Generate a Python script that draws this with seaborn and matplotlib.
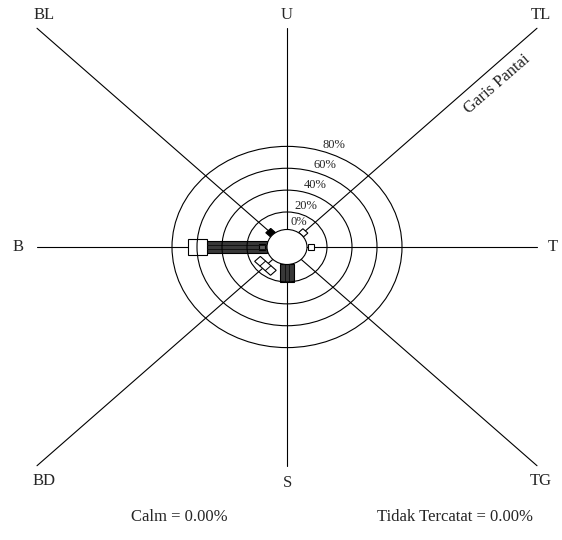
import numpy as np
import pandas as pd
import matplotlib
matplotlib.use("Agg")
import matplotlib.pyplot as plt
import seaborn as sns
from matplotlib.patches import Polygon, Circle

# wind directions (Indonesian labels) and their angle in degrees
DIRECTIONS = ["U", "TL", "T", "TG", "S", "BD", "B", "BL"]
ANGLES_DEG = [90, 45, 0, -45, -90, -135, 180, 135]

RING_PCT = [20, 40, 60, 80]
RING_LABELS = ["0%", "20%", "40%", "60%", "80%"]

# bar segments (percent, cumulative along each direction)
SEG_DIR = ["B", "B", "B", "S", "BD", "T", "TL", "BL"]
SEG_START = [4.0, 5.6, 52.2, 4.0, 9.2, 5.0, 4.0, 4.0]
SEG_END = [52.2, 10.2, 67.0, 19.7, 15.6, 9.6, 8.8, 9.2]
SEG_KIND = ["dark", "grey", "white_wide", "dark", "white_split", "white", "white", "black"]

CALM = 0.00
TIDAK_TERCATAT = 0.00

# radius scale (px-like data units)
R0, K = 15.0, 1.25
R_CALM = 20.0
SPOKE = 250.0

STYLE = {
    "dark": dict(width=14.0, fc="#383838", div=[-14.0 / 6, 14.0 / 6], dc="#111111"),
    "grey": dict(width=7.0, fc="#5e5e5e", div=[], dc="black"),
    "white_wide": dict(width=18.6, fc="white", div=[], dc="black"),
    "white_split": dict(width=22.5, fc="white", div=[-3.75, 3.75], dc="black"),
    "white": dict(width=7.0, fc="white", div=[], dc="black"),
    "black": dict(width=7.0, fc="black", div=[], dc="black"),
}


def radius(p):
    return R0 + K * p


sns.set_theme(style="white")
plt.rcParams['font.family'] = ['Liberation Serif', 'DejaVu Serif']

fig = plt.figure(figsize=(5.62, 5.40), dpi=100)
ax = fig.add_axes([0, 0, 1, 1])
ax.set_xlim(-287, 275)
ax.set_ylim(-334.9, 282.3)
ax.axis("off")

angle_of = dict(zip(DIRECTIONS, ANGLES_DEG))

# spokes to the edge of the square frame
rows = []
for d, a in zip(DIRECTIONS, ANGLES_DEG):
    t = np.deg2rad(a)
    ux, uy = np.cos(t), np.sin(t)
    L = SPOKE / max(abs(ux), abs(uy))
    rows.append({"dir": d, "x": 0.0, "y": 0.0})
    rows.append({"dir": d, "x": L * ux, "y": L * uy})
spokes = pd.DataFrame(rows)
sns.lineplot(data=spokes, x="x", y="y", units="dir", estimator=None, sort=False,
             color="black", lw=0.8, ax=ax, legend=False, zorder=1)
ax.set_xlabel("")
ax.set_ylabel("")

# bars
for d, p0, p1, kind in zip(SEG_DIR, SEG_START, SEG_END, SEG_KIND):
    st = STYLE[kind]
    t = np.deg2rad(angle_of[d])
    u = np.array([np.cos(t), np.sin(t)])
    n = np.array([-np.sin(t), np.cos(t)])
    hw = st["width"] / 2
    r0, r1 = radius(p0), radius(p1)
    pts = [r0 * u + hw * n, r1 * u + hw * n, r1 * u - hw * n, r0 * u - hw * n]
    ax.add_patch(Polygon(pts, closed=True, fc=st["fc"], ec="black", lw=0.8, zorder=2))
    for off in st["div"]:
        a0 = r0 * u + off * n
        a1 = r1 * u + off * n
        ax.plot([a0[0], a1[0]], [a0[1], a1[1]], color=st["dc"], lw=0.7, zorder=2.5)

# rings
for p in RING_PCT:
    ax.add_patch(Circle((0, 0), radius(p), fill=False, ec="black", lw=0.8, zorder=3))
ax.add_patch(Circle((0, 0), R_CALM, fc="white", ec="black", lw=0.8, zorder=4))

# ring labels
ring_r = [R_CALM] + [radius(p) for p in RING_PCT]
la = np.deg2rad(68)
for r, lab in zip(ring_r, RING_LABELS):
    ax.text((r + 11) * np.cos(la), (r + 11) * np.sin(la), lab, fontsize=9,
            ha="center", va="center", zorder=5)

# direction labels
label_pos = {"U": (0, 265), "TL": (254, 265), "T": (266, 0), "TG": (254, -267),
             "S": (0, -270), "BD": (-243, -267), "B": (-269, 0), "BL": (-243, 265)}
for d in DIRECTIONS:
    x, y = label_pos[d]
    ax.text(x, y, d, fontsize=12, ha="center", va="center")

ax.text(210, 186, "Garis Pantai", fontsize=12, rotation=41,
        ha="center", va="center", rotation_mode="anchor")

ax.text(-108, -309, f"Calm = {CALM:.2f}%", fontsize=12, ha="center", va="center")
ax.text(168, -309, f"Tidak Tercatat = {TIDAK_TERCATAT:.2f}%", fontsize=12,
        ha="center", va="center")

fig.savefig("out.png", dpi=100, facecolor="white")
